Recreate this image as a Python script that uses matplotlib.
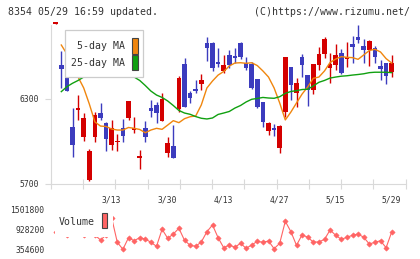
import matplotlib
matplotlib.use("Agg")
import matplotlib.pyplot as plt
from matplotlib.patches import Rectangle
import numpy as np

# daily candles (61 trading days)
opens = [6830, 6542, 6521, 6102, 6224, 6034, 5728, 6034, 6199, 6131,
         5973, 5996, 6097, 6164, 6081, 5886, 6097, 6239, 6258, 6147,
         5921, 5968, 6229, 6547, 6344, 6368, 6406, 6697, 6697, 6561,
         6498, 6611, 6604, 6693, 6556, 6547, 6439, 6277, 6076, 6097,
         5956, 6210, 6528, 6344, 6599, 6469, 6364, 6540, 6620, 6521,
         6540, 6625, 6584, 6688, 6740, 6674, 6646, 6658, 6533, 6556, 6493]
highs = [6840, 6639, 6521, 6239, 6328, 6199, 5947, 6206, 6270, 6140,
         6152, 6053, 6159, 6288, 6171, 5940, 6147, 6293, 6281, 6344,
         6034, 6114, 6462, 6592, 6356, 6434, 6476, 6740, 6704, 6658,
         6611, 6646, 6658, 6700, 6594, 6559, 6439, 6277, 6136, 6124,
         6116, 6599, 6528, 6450, 6618, 6469, 6547, 6669, 6740, 6627,
         6688, 6651, 6704, 6747, 6822, 6724, 6716, 6674, 6575, 6556, 6611]
lows = [6830, 6376, 6359, 5888, 6152, 6006, 5723, 5996, 6152, 5935,
        5940, 5935, 5999, 6152, 6058, 5806, 5999, 6175, 6133, 6147,
        5888, 5881, 6210, 6246, 6270, 6344, 6364, 6570, 6500, 6528,
        6481, 6517, 6556, 6580, 6505, 6371, 6234, 6104, 6046, 6041,
        5921, 6175, 6293, 6241, 6453, 6251, 6335, 6505, 6592, 6415,
        6505, 6476, 6528, 6556, 6697, 6556, 6533, 6556, 6434, 6406, 6457]
closes = [6840, 6514, 6359, 5975, 6234, 6166, 5933, 6187, 6168, 6016,
          6097, 6006, 6039, 6288, 6093, 5900, 6034, 6217, 6203, 6300,
          5992, 5886, 6450, 6246, 6305, 6356, 6434, 6662, 6521, 6549,
          6540, 6540, 6592, 6599, 6517, 6380, 6246, 6140, 6128, 6081,
          6109, 6594, 6399, 6415, 6540, 6364, 6547, 6618, 6724, 6547,
          6611, 6486, 6599, 6669, 6719, 6646, 6709, 6599, 6512, 6464, 6556]

ma5 = [np.nan, 6681, 6618, 6561, 6455, 6378, 6265, 6138, 6109, 6106,
       6088, 6081, 6081, 6099, 6093, 6085, 6062, 6081, 6093, 6086,
       6116, 6147, 6133, 6161, 6175, 6180, 6258, 6378, 6427, 6469,
       6494, 6533, 6554, 6556, 6552, 6556, 6536, 6498, 6455, 6378,
       6272, 6152, 6208, 6272, 6335, 6385, 6446, 6455, 6498, 6558,
       6582, 6599, 6594, 6592, 6580, 6611, 6642, 6651, 6632, 6585, 6554]
ma25 = [np.nan, 6352, 6387, 6411, 6431, 6455, 6469, 6484, 6491, 6498,
        6498, 6498, 6491, 6476, 6455, 6431, 6395, 6356, 6328, 6311,
        6286, 6254, 6219, 6201, 6192, 6176, 6164, 6159, 6166, 6191,
        6201, 6212, 6236, 6254, 6279, 6298, 6304, 6311, 6307, 6305,
        6316, 6340, 6353, 6359, 6367, 6369, 6392, 6418, 6431, 6448,
        6455, 6461, 6464, 6469, 6473, 6478, 6486, 6489, 6489, 6489, 6486]

volume = [850000, 908000, 765000, 822000, 879000, 765000, 965000, 765000, 621000, 765000,
          1252000, 555000, 354600, 687000, 601000, 687000, 650000, 555000, 441000, 928000,
          670000, 793000, 957000, 613000, 469000, 441000, 564000, 859000, 1052000, 687000,
          400000, 478000, 412000, 527000, 383000, 478000, 584000, 555000, 593000, 372000,
          527000, 1158000, 859000, 469000, 773000, 699000, 564000, 564000, 641000, 908000,
          756000, 641000, 699000, 756000, 793000, 699000, 507000, 555000, 601000, 400000, 851000]

date_idx = [10, 20, 30, 40, 50, 60]
date_labels = ["3/13", "3/30", "4/13", "4/27", "5/15", "5/29"]
price_ticks = [5700, 6300]
vol_ticks = [354600, 928200, 1501800]

RED = "#d40000"
BLUE = "#3c3cbe"
GRID = "#d9d9d9"
TXT = "#333333"
MONO = "DejaVu Sans Mono"

fig = plt.figure(figsize=(4.2, 2.59), dpi=100)
W, H = 420.0, 259.0
ax = fig.add_axes([51 / W, 1 - 184 / H, 354.7 / W, 159 / H])
vax = fig.add_axes([51 / W, 1 - 249.3 / H, 354.7 / W, 40 / H])

x = np.arange(len(closes))
xlim = (-0.84, 62.5)

# candles
o = np.array(opens)
c = np.array(closes)
colors = [RED if cc >= oo else BLUE for oo, cc in zip(o, c)]
ax.vlines(x, lows, highs, colors=colors, linewidth=1.0, clip_on=False, zorder=2)
bottom = np.minimum(o, c)
height = np.maximum(np.abs(c - o), 10)
ax.bar(x, height, bottom=bottom, width=0.84, color=colors, linewidth=0,
       clip_on=False, zorder=3)

ax.plot(x, ma5, color="#f0860e", linewidth=1.0, zorder=4, clip_on=False)
ax.plot(x, ma25, color="#10a010", linewidth=1.0, zorder=4, clip_on=False)

ax.set_xlim(*xlim)
ax.set_ylim(5700, 5700 + 159 * 600 / 85)
for s in ["top", "right"]:
    ax.spines[s].set_visible(False)
ax.spines["left"].set_color(GRID)
ax.spines["bottom"].set_color(GRID)
ax.patch.set_alpha(0)

ax.set_yticks(price_ticks)
ax.set_yticklabels([str(t) for t in price_ticks])
ax.tick_params(axis="y", length=4.3, width=0.8, color=GRID, pad=4.1,
               labelsize=5.8, labelcolor=TXT)
ax.set_xticks(date_idx)
ax.set_xticklabels(date_labels)
ax.set_xticks(np.linspace(xlim[0], xlim[1], 12), minor=True)
ax.tick_params(axis="x", which="major", length=0, pad=8, labelsize=5.8,
               labelcolor=TXT)
ax.tick_params(axis="x", which="minor", length=6.5, width=0.8, color=GRID,
               direction="inout")
for lbl in ax.get_xticklabels() + ax.get_yticklabels():
    lbl.set_family(MONO)

# volume
vax.plot(x, volume, color="#ff6464", linewidth=0.8, marker="D", markersize=2.7,
         markeredgewidth=0.4, clip_on=False)
vax.set_xlim(*xlim)
vax.set_ylim(vol_ticks[0], vol_ticks[-1])
vax.set_xticks([])
vax.set_yticks(vol_ticks)
vax.set_yticklabels([str(t) for t in vol_ticks])
vax.tick_params(axis="y", length=0, pad=4.8, labelsize=5.8, labelcolor=TXT)
for lbl in vax.get_yticklabels():
    lbl.set_family(MONO)
for s in vax.spines.values():
    s.set_visible(False)
vax.patch.set_alpha(0)

# overlay for header and legends (pixel coordinates)
ov = fig.add_axes([0, 0, 1, 1], zorder=10)
ov.set_xlim(0, W)
ov.set_ylim(H, 0)
ov.axis("off")
ov.patch.set_alpha(0)

ov.text(8, 12, "8354 05/29 16:59 updated.", family=MONO, fontsize=7.1,
        color=TXT, va="center", ha="left")
ov.text(410, 12, "(C)https://www.rizumu.net/", family=MONO, fontsize=7.1,
        color=TXT, va="center", ha="right")

ov.add_patch(Rectangle((65.3, 30), 78, 47.3, facecolor="white",
                       edgecolor="#cccccc", linewidth=0.9))
ov.text(125, 46, "5-day MA", family=MONO, fontsize=7.1, color=TXT,
        ha="right", va="center")
ov.text(125, 63, "25-day MA", family=MONO, fontsize=7.1, color=TXT,
        ha="right", va="center")
ov.add_patch(Rectangle((131.5, 37.5), 6, 16, facecolor="#f0860e",
                       edgecolor="#444444", linewidth=0.8))
ov.add_patch(Rectangle((131.5, 54.5), 6, 15.3, facecolor="#10a010",
                       edgecolor="#444444", linewidth=0.8))

ov.add_patch(Rectangle((55, 205), 58, 31.5, facecolor="white", edgecolor="none"))
ov.text(59, 222.3, "Volume", family=MONO, fontsize=7.1, color=TXT,
        ha="left", va="center")
ov.add_patch(Rectangle((101.7, 213.3), 5.6, 15, facecolor="#ff6464",
                       edgecolor="#444444", linewidth=0.8))

fig.savefig("out.png", dpi=100)
